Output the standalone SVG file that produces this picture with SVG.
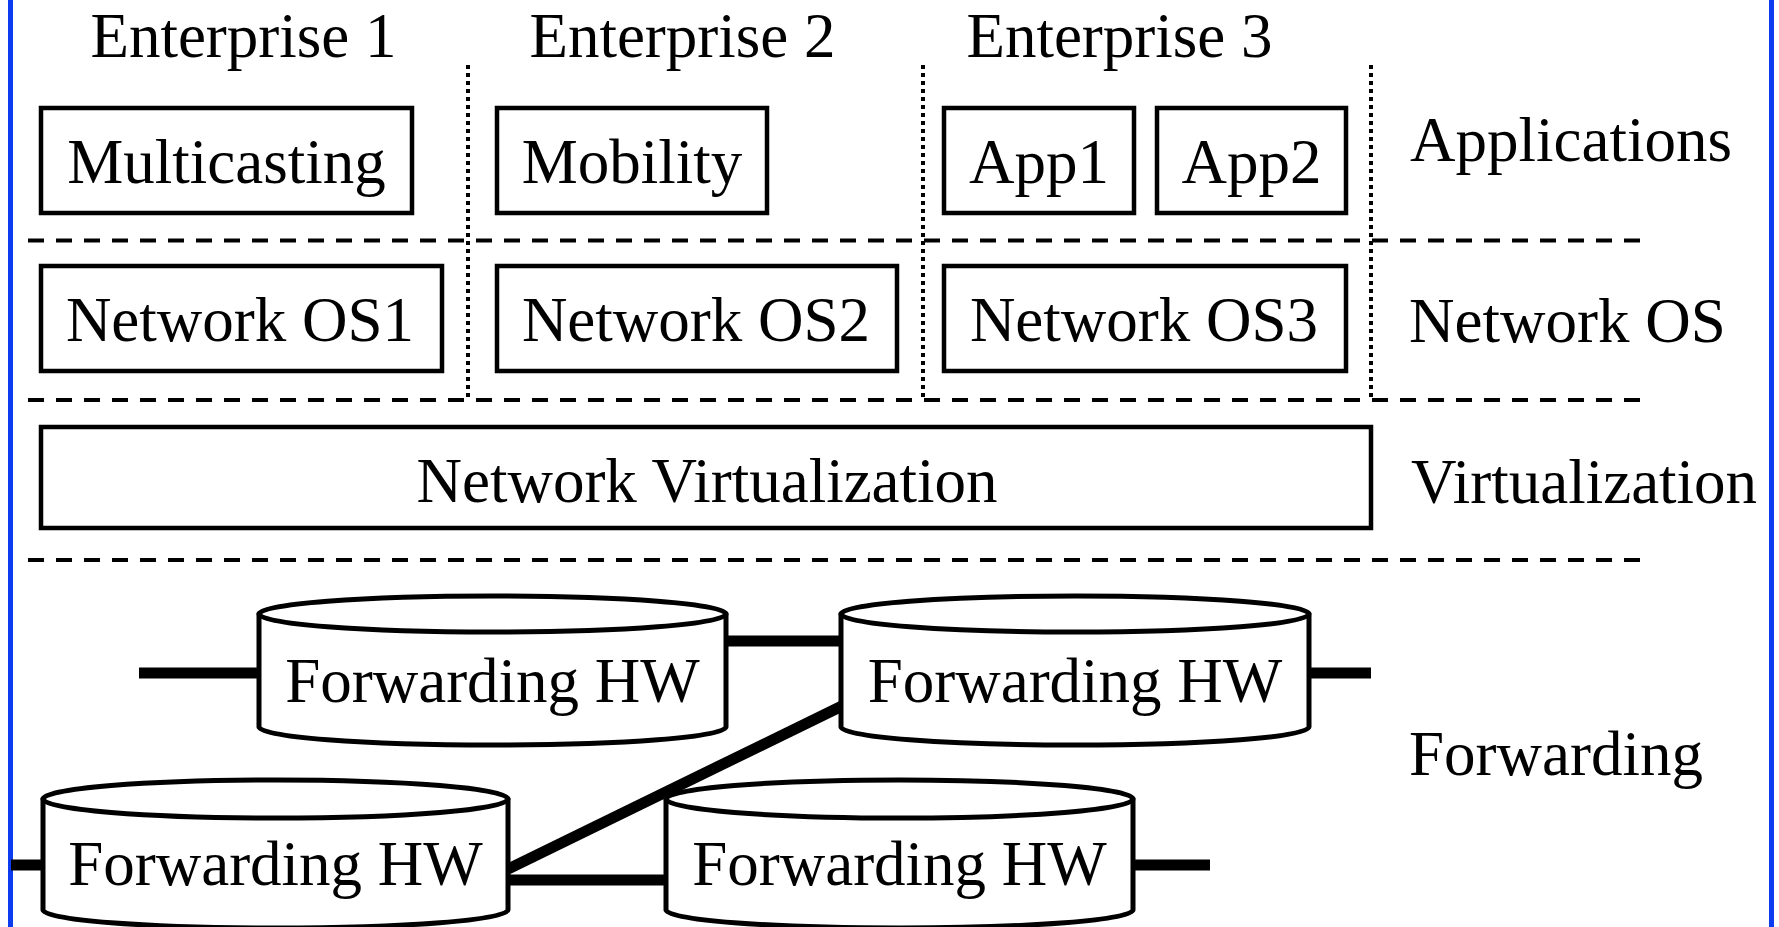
<svg xmlns="http://www.w3.org/2000/svg" width="1779" height="927" viewBox="0 0 1779 927">
<style>
text{font-family:"Liberation Serif","Times New Roman",serif;font-size:63px;fill:#000}
.c{text-anchor:middle}
.box{fill:#fff;stroke:#000;stroke-width:4.5}
.cyl{fill:#fff;stroke:#000;stroke-width:5;stroke-linejoin:round}
.dash{stroke:#000;stroke-width:4;stroke-dasharray:16 12;fill:none}
.dot{stroke:#000;stroke-width:4;stroke-dasharray:4 4;fill:none}
.link{stroke:#000;stroke-width:11;fill:none}
.frame{stroke:#0d3cf0;stroke-width:5}
</style>
<rect x="0" y="0" width="1779" height="927" fill="#fff"/>
<line class="frame" x1="10.5" y1="0" x2="10.5" y2="927"/>
<line class="frame" x1="1771.5" y1="0" x2="1771.5" y2="927"/>

<g id="separators">
<line class="dash" x1="28" y1="240.5" x2="1640" y2="240.5"/>
<line class="dash" x1="28" y1="400" x2="1640" y2="400"/>
<line class="dash" x1="28" y1="560" x2="1640" y2="560"/>
<line class="dot" x1="468" y1="65" x2="468" y2="398"/>
<line class="dot" x1="923" y1="65" x2="923" y2="398"/>
<line class="dot" x1="1371" y1="65" x2="1371" y2="398"/>
</g>

<g id="labels">
<text class="c" x="243.5" y="57">Enterprise 1</text>
<text class="c" x="682.5" y="57">Enterprise 2</text>
<text class="c" x="1119.5" y="57">Enterprise 3</text>
<text x="1410" y="161">Applications</text>
<text x="1409" y="342">Network OS</text>
<text x="1411" y="503">Virtualization</text>
<text x="1409" y="775">Forwarding</text>
</g>

<g id="connectors">
<line class="link" x1="139" y1="673" x2="259" y2="673"/>
<line class="link" x1="726" y1="641" x2="841" y2="641"/>
<line class="link" x1="1309" y1="673" x2="1371" y2="673"/>
<line class="link" x1="11" y1="865" x2="43" y2="865"/>
<line class="link" x1="508" y1="880" x2="666" y2="880"/>
<line class="link" x1="1133" y1="865" x2="1210" y2="865"/>
<line class="link" x1="508" y1="869" x2="842" y2="706"/>
</g>

<g id="multicasting"><rect class="box" x="41" y="108" width="371" height="105"/><text class="c" x="226.5" y="183">Multicasting</text></g>
<g id="mobility"><rect class="box" x="497" y="108" width="270" height="105"/><text class="c" x="632" y="183">Mobility</text></g>
<g id="app1"><rect class="box" x="944" y="108" width="190" height="105"/><text class="c" x="1039" y="183">App1</text></g>
<g id="app2"><rect class="box" x="1157" y="108" width="189" height="105"/><text class="c" x="1251.5" y="183">App2</text></g>

<g id="nos1"><rect class="box" x="41" y="266" width="401" height="105"/><text class="c" x="240" y="341">Network OS1</text></g>
<g id="nos2"><rect class="box" x="497" y="266" width="400" height="105"/><text class="c" x="696" y="341">Network OS2</text></g>
<g id="nos3"><rect class="box" x="944" y="266" width="402" height="105"/><text class="c" x="1144" y="341">Network OS3</text></g>

<g id="virtualization"><rect class="box" x="41" y="427" width="1330" height="101"/><text class="c" x="707" y="502">Network Virtualization</text></g>

<g id="fhw-a">
<path class="cyl" d="M259,614 L259,727 A233.5,18 0 0 0 726,727 L726,614 Z"/>
<ellipse class="cyl" cx="492.5" cy="614" rx="233.5" ry="18"/>
<text class="c" x="492.5" y="702">Forwarding HW</text>
</g>
<g id="fhw-b">
<path class="cyl" d="M841,614 L841,727 A234,18 0 0 0 1309,727 L1309,614 Z"/>
<ellipse class="cyl" cx="1075" cy="614" rx="234" ry="18"/>
<text class="c" x="1075" y="702">Forwarding HW</text>
</g>
<g id="fhw-c">
<path class="cyl" d="M43,799 L43,910 A232.5,18 0 0 0 508,910 L508,799 Z"/>
<ellipse class="cyl" cx="275.5" cy="799" rx="232.5" ry="19"/>
<text class="c" x="275.5" y="885">Forwarding HW</text>
</g>
<g id="fhw-d">
<path class="cyl" d="M666,799 L666,910 A233.5,18 0 0 0 1133,910 L1133,799 Z"/>
<ellipse class="cyl" cx="899.5" cy="799" rx="233.5" ry="19"/>
<text class="c" x="899.5" y="885">Forwarding HW</text>
</g>
</svg>
